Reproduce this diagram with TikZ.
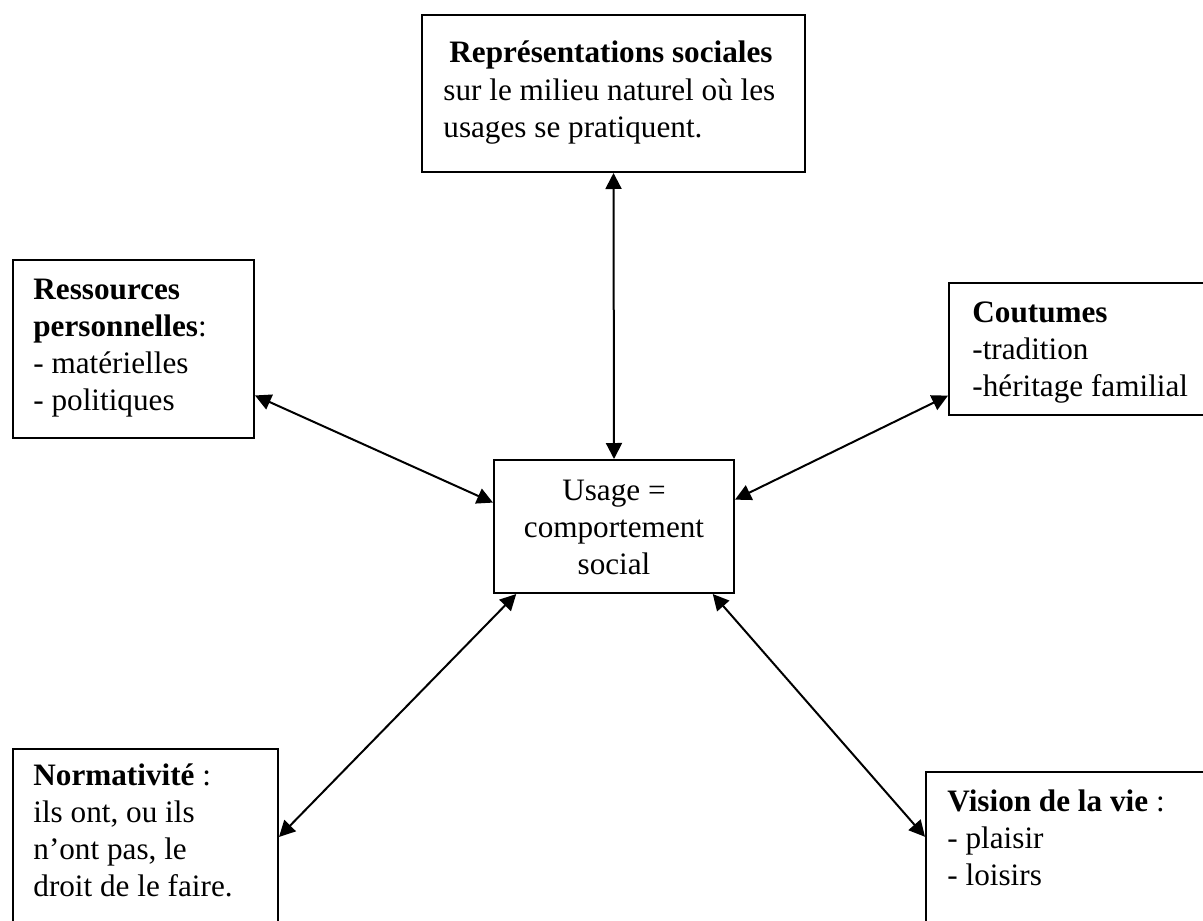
\documentclass[tikz,border=0pt]{standalone}
\usepackage{fontspec}
\setmainfont{Liberation Serif}
\usetikzlibrary{arrows.meta,calc}
\begin{document}
\begin{tikzpicture}[x=0.5pt,y=-0.5pt,
 box/.style={draw,line width=1pt,rectangle,inner sep=0pt},
 txt/.style={inner sep=0pt,font=\fontsize{15.6pt}{18.5pt}\selectfont,align=left,anchor=base west},
 ctxt/.style={txt,align=center,anchor=base},
 link/.style={line width=1pt,{Triangle[length=8pt,width=8pt]}-{Triangle[length=8pt,width=8pt]}}]
\useasboundingbox (0,0) rectangle (1203,920);
\clip (0,0) rectangle (1203,920);
% boxes
\node[box,minimum width=191.5pt,minimum height=78.5pt] (top) at (613.5,93.5) {};
\node[box,minimum width=120.5pt,minimum height=89pt] (left) at (133.5,349) {};
\node[box,minimum width=133pt,minimum height=66pt] (right) at (1082,349) {};
\node[box,minimum width=120pt,minimum height=66.5pt] (center) at (614,526.5) {};
\node[box,minimum width=132.5pt,minimum height=95.5pt] (bl) at (145.5,844.5) {};
\node[box,minimum width=144.5pt,minimum height=84pt] (br) at (1070.5,856) {};
% texts (anchored at the baseline of the last line)
\node[txt] (topT) at (443,137) {\hspace{3pt}\textbf{Représentations sociales}\\sur le milieu naturel où les\\usages se pratiquent.};
\node[txt] (leftT) at (33,410) {\textbf{Ressources}\\\textbf{personnelles}:\\- matérielles\\- politiques};
\node[txt] (rightT) at (972,396) {\textbf{Coutumes}\\-tradition\\-héritage familial};
\node[ctxt] (centerT) at (614,574) {Usage =\\comportement\\social};
\node[txt] (blT) at (33,896) {\textbf{Normativité} :\\ils ont, ou ils\\n’ont pas, le\\droit de le faire.};
\node[txt] (brT) at (947,885) {\textbf{Vision de la vie} :\\- plaisir\\- loisirs};
% connectors
\draw[link] (top.south) -- (center.north);
\draw[link] ($(left.north east)!0.758!(left.south east)$) -- ($(center.north west)!0.323!(center.south west)$);
\draw[link] ($(right.north west)!0.848!(right.south west)$) -- ($(center.north east)!0.301!(center.south east)$);
\draw[link] ($(bl.north east)!0.461!(bl.south east)$) -- ($(center.south west)!0.096!(center.south east)$);
\draw[link] ($(br.north west)!0.387!(br.south west)$) -- ($(center.south west)!0.908!(center.south east)$);
\end{tikzpicture}
\end{document}
